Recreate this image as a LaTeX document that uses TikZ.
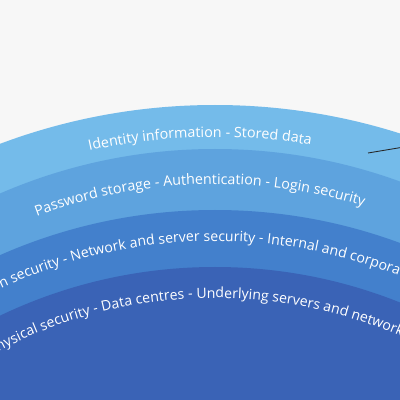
\documentclass[tikz,border=0pt]{standalone}
\usepackage{fontspec}
\setmainfont{Open Sans}
\usetikzlibrary{decorations.text}

\definecolor{paper}{HTML}{F7F7F7}
\definecolor{layerA}{HTML}{74BBEA}
\definecolor{layerB}{HTML}{5EA3DE}
\definecolor{layerC}{HTML}{4380CC}
\definecolor{layerD}{HTML}{3A63B6}

\begin{document}
\begin{tikzpicture}[
    x=1pt, y=1pt,
    lbl/.style={decorate, decoration={text along path, text color=white}},
    pointer/.style={draw=black!85, line width=0.9pt}
]
\useasboundingbox (0,0) rectangle (400,400);
\clip (0,0) rectangle (400,400);
\fill[paper] (0,0) rectangle (400,400);

% centres of the layers
\coordinate (c1) at (215,-317);
\coordinate (c2) at (215,-289);
\coordinate (c3) at (215,-343);
\coordinate (c4) at (215,-365);

\fill[layerA] (c1) circle[radius=612];
\fill[layerB] (c2) circle[radius=540];
\fill[layerC] (c3) circle[radius=533];
\fill[layerD] (c4) circle[radius=498];

% curved labels
\path[lbl, decoration={text align=center,
    text={|\fontsize{14.3}{16}\selectfont|Identity information - Stored data}}]
    ([shift={(c1)}]116.5:580) arc[start angle=116.5, end angle=66.5, radius=580];
\path[lbl, decoration={text align=center,
    text={|\fontsize{14.3}{16}\selectfont|Password storage - Authentication - Login security}}]
    ([shift={(c2)}]121.8:505) arc[start angle=121.8, end angle=61.8, radius=505];
\path[lbl, decoration={text align=left,
    text={|\fontsize{14.1}{16}\selectfont|n security - Network and server security - Internal and corpora}}]
    ([shift={(c3)}]115.2:502) arc[start angle=115.2, end angle=40, radius=502];
\path[lbl, decoration={text align=left,
    text={|\fontsize{14.1}{16}\selectfont|hysical security - Data centres - Underlying servers and network}}]
    ([shift={(c4)}]117.6:467) arc[start angle=117.6, end angle=40, radius=467];

% pointer leaving the picture
\coordinate (tip) at (368,247);
\coordinate (tail) at (401,252.5);
\draw[pointer] (tip) -- (tail);
\end{tikzpicture}
\end{document}
